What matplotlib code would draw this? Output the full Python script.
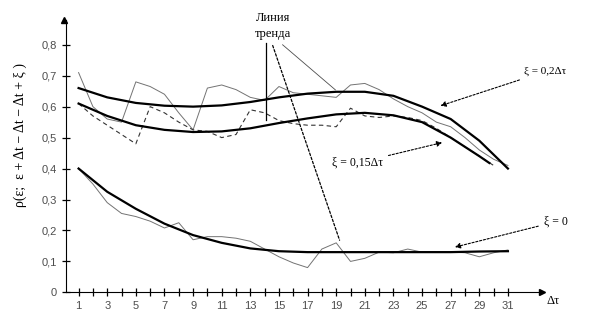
# корреляционная функция с линиями тренда
import matplotlib.pyplot as plt
import numpy as np

# исходные данные, шаг 1
dt = list(range(1, 32))
rho_02 = [0.71, 0.60, 0.56, 0.55, 0.68, 0.665, 0.64, 0.58, 0.525, 0.66, 0.67,
          0.655, 0.63, 0.62, 0.665, 0.645, 0.64, 0.635, 0.63, 0.67, 0.675,
          0.655, 0.625, 0.60, 0.58, 0.55, 0.535, 0.50, 0.46, 0.43, 0.41]
dt_015 = list(range(1, 31))
rho_015 = [0.61, 0.57, 0.54, 0.51, 0.48, 0.60, 0.58, 0.55, 0.525, 0.52, 0.50,
           0.51, 0.59, 0.58, 0.555, 0.545, 0.54, 0.54, 0.535, 0.595, 0.57,
           0.565, 0.57, 0.565, 0.555, 0.53, 0.50, 0.47, 0.44, 0.41]
rho_0 = [0.40, 0.35, 0.29, 0.255, 0.245, 0.23, 0.208, 0.225, 0.17, 0.18, 0.18,
         0.175, 0.165, 0.14, 0.115, 0.095, 0.08, 0.14, 0.16, 0.10, 0.11,
         0.13, 0.128, 0.14, 0.13, 0.13, 0.13, 0.128, 0.115, 0.128, 0.137]

# линии тренда
dt_tr = [1, 3, 5, 7, 9, 11, 13, 15, 17, 19, 21, 23, 25, 27, 29, 31]
tr_02 = [0.66, 0.63, 0.612, 0.603, 0.60, 0.604, 0.615, 0.63, 0.642, 0.648,
         0.648, 0.635, 0.60, 0.56, 0.49, 0.40]
dt_tr15 = [1, 3, 5, 7, 9, 11, 13, 15, 17, 19, 21, 23, 25, 27, 29, 29.7]
tr_015 = [0.61, 0.57, 0.54, 0.525, 0.518, 0.52, 0.53, 0.547, 0.562, 0.575,
          0.58, 0.572, 0.55, 0.50, 0.44, 0.418]
tr_0 = [0.40, 0.325, 0.27, 0.222, 0.185, 0.16, 0.142, 0.133, 0.13, 0.13,
        0.13, 0.13, 0.13, 0.13, 0.132, 0.133]

xticks = list(range(1, 32))
xlabels = [str(i) if i % 2 else '' for i in xticks]
yticks = [0, 0.1, 0.2, 0.3, 0.4, 0.5, 0.6, 0.7, 0.8]
ylabels = ['0', '0,1', '0,2', '0,3', '0,4', '0,5', '0,6', '0,7', '0,8']

fig = plt.figure(figsize=(5.92, 3.22), dpi=100)
ax = fig.add_axes([0.111, 0.092, 0.805, 0.846])

ax.plot(dt, rho_02, color='0.45', lw=0.7)
ax.plot(dt_015, rho_015, color='0.2', lw=0.8, ls=(0, (4, 3)))
ax.plot(dt, rho_0, color='0.45', lw=0.7)

ax.plot(dt_tr, tr_02, color='black', lw=1.6)
ax.plot(dt_tr15, tr_015, color='black', lw=1.6)
ax.plot(dt_tr, tr_0, color='black', lw=1.6)

ax.set_xlim(0.1, 33.4)
ax.set_ylim(0, 0.88)
ax.spines['top'].set_visible(False)
ax.spines['right'].set_visible(False)
ax.set_xticks(xticks)
ax.set_xticklabels(xlabels)
ax.set_yticks(yticks)
ax.set_yticklabels(ylabels)
ax.tick_params(direction='inout', length=6, width=0.9, labelsize=8, colors='black')
for lab in ax.get_xticklabels() + ax.get_yticklabels():
    lab.set_family('Liberation Sans')
    lab.set_color('0.3')

# стрелки осей
ax.plot(1, 0, '>k', ms=5, transform=ax.get_yaxis_transform(), clip_on=False)
ax.plot(0, 1, '^k', ms=5, transform=ax.get_xaxis_transform(), clip_on=False)

ax.text(33.7, -0.01, 'Δτ', fontsize=9, family='Liberation Serif', va='top')
fig.text(0.035, 0.58, 'ρ(ε;  ε + Δt − Δt − Δt + ξ )', rotation=90, fontsize=10,
         family='Liberation Serif', ha='center', va='center')

# подписи
ax.text(14.6, 0.815, 'Линия\nтренда', fontsize=9, family='Liberation Serif',
        ha='center', va='bottom', linespacing=1.5)
ax.plot([14.1, 14.1], [0.806, 0.557], color='black', lw=0.9)
ax.annotate('', xy=(19.3, 0.16), xytext=(14.5, 0.806),
            arrowprops=dict(arrowstyle='-', ls=(0, (2, 1.5)), lw=0.9, color='black'))
ax.annotate('', xy=(19.1, 0.648), xytext=(15.1, 0.806),
            arrowprops=dict(arrowstyle='-', lw=0.6, color='0.3'))

arr = dict(arrowstyle='-|>', ls=(0, (2, 1.5)), lw=0.8, color='black', mutation_scale=8)
ax.annotate('ξ = 0,2Δτ', xy=(26.1, 0.60), xytext=(32.1, 0.713), fontsize=8,
            family='Liberation Serif', va='center', arrowprops=arr)
ax.annotate('ξ = 0,15Δτ', xy=(26.6, 0.486), xytext=(18.7, 0.418), fontsize=8.5,
            family='Liberation Serif', va='center', arrowprops=arr)
ax.annotate('ξ = 0', xy=(27.1, 0.144), xytext=(33.5, 0.228), fontsize=8.5,
            family='Liberation Serif', va='center', arrowprops=arr)

plt.savefig('out.png', dpi=100)
